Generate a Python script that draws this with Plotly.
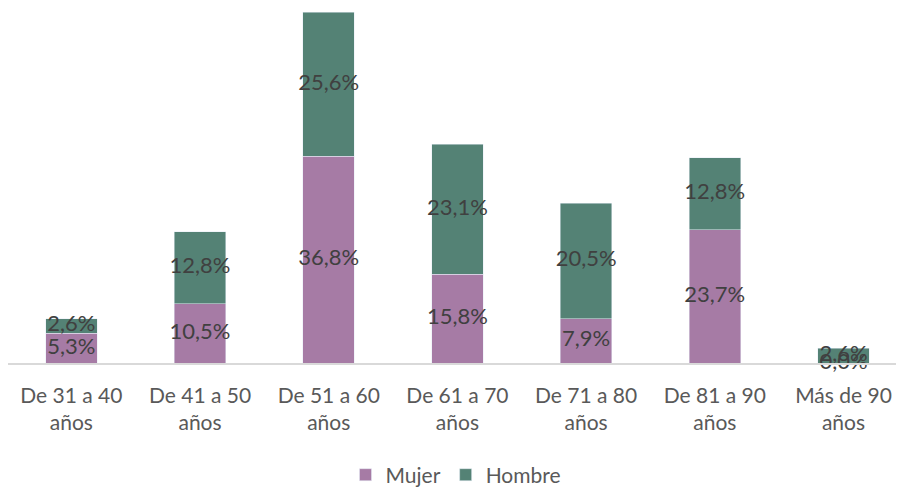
import plotly.graph_objects as go

categories = ["De 31 a 40<br>años", "De 41 a 50<br>años", "De 51 a 60<br>años", "De 61 a 70<br>años",
              "De 71 a 80<br>años", "De 81 a 90<br>años", "Más de 90<br>años"]
mujer = [5.3, 10.5, 36.8, 15.8, 7.9, 23.7, 0.0]
hombre = [2.6, 12.8, 25.6, 23.1, 20.5, 12.8, 2.6]

C_MUJER = "#A67BA5"
C_HOMBRE = "#548275"
FONT = "Lato"

def fmt(v):
    return f"{v:.1f}%".replace(".", ",")

x = list(range(len(categories)))

fig = go.Figure()
fig.add_trace(go.Bar(x=x, y=mujer, name="Mujer", marker_color=C_MUJER, width=0.4, hoverinfo="skip"))
fig.add_trace(go.Bar(x=x, y=hombre, name="Hombre", marker_color=C_HOMBRE, width=0.4, hoverinfo="skip"))

# data labels at segment centres
mid_m = [m / 2 for m in mujer]
mid_h = [m + h / 2 for m, h in zip(mujer, hombre)]
fig.add_trace(go.Scatter(x=x, y=mid_m, mode="text", text=[fmt(v) for v in mujer], cliponaxis=False,
                         textfont=dict(family=FONT, size=22, color="#404040"), showlegend=False, hoverinfo="skip"))
fig.add_trace(go.Scatter(x=x, y=mid_h, mode="text", text=[fmt(v) for v in hombre], cliponaxis=False,
                         textfont=dict(family=FONT, size=22, color="#404040"), showlegend=False, hoverinfo="skip"))

fig.update_layout(
    barmode="stack",
    width=896, height=479,
    margin=dict(l=0, r=0, t=4, b=124, autoexpand=False),
    paper_bgcolor="white", plot_bgcolor="white",
    font=dict(family=FONT, size=21, color="#595959"),
    xaxis=dict(tickmode="array", tickvals=x, ticktext=categories, range=[-0.492, 6.47],
               showline=True, linecolor="#D9D9D9", linewidth=1.5, showgrid=False, zeroline=False,
               ticks="outside", ticklen=13, tickcolor="rgba(0,0,0,0)", automargin=False,
               tickfont=dict(family=FONT, size=21, color="#595959")),
    yaxis=dict(range=[0, 62.4], visible=False),
    legend=dict(orientation="h", x=0.5, xanchor="center", y=0.025, yanchor="middle", yref="container",
                font=dict(family=FONT, size=21, color="#595959"), traceorder="normal"),
    bargap=0.6,
)

fig.write_html("out.html")
